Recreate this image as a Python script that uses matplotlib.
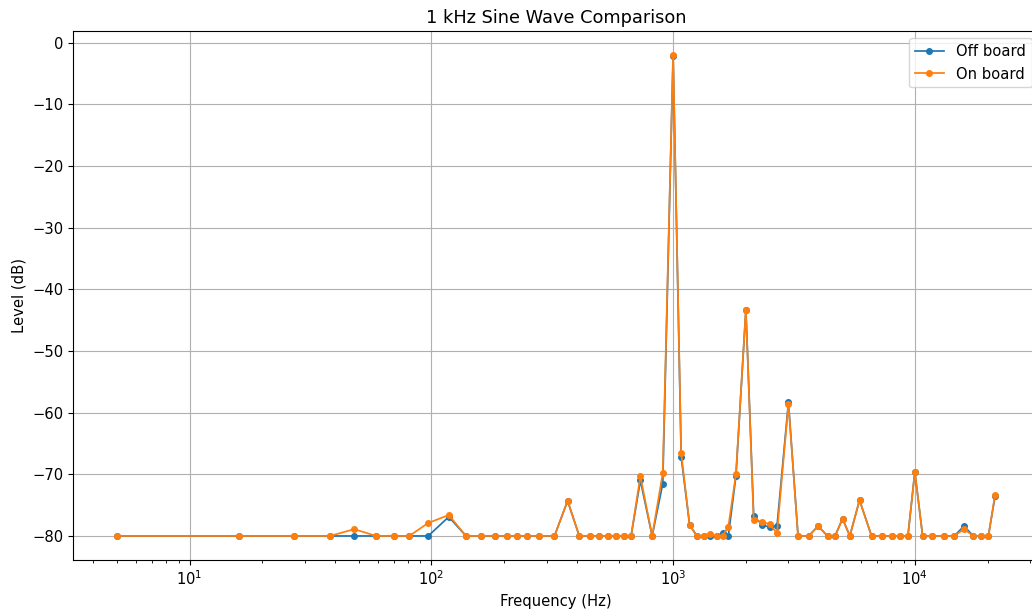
import matplotlib
matplotlib.use("Agg")
import matplotlib.pyplot as plt

# frequency bins (Hz)
freq = [5, 16, 27, 38, 48, 59, 70, 81, 97, 118, 139, 161, 184, 205, 226, 248,
        280, 323, 366, 409, 453, 495, 540, 583, 625, 670, 732, 819, 906, 1000,
        1080, 1170, 1254, 1341, 1425, 1518, 1602, 1692, 1819, 2000, 2154, 2340,
        2508, 2690, 3000, 3287, 3640, 3978, 4352, 4679, 5022, 5383, 5904, 6622,
        7285, 8013, 8676, 9363, 10000, 10772, 11806, 13203, 14565, 15973, 17458,
        18849, 20150, 21478]

off_board = [-80, -80, -80, -80, -80, -80, -80, -80, -80, -76.9, -80, -80, -80, -80, -80, -80,
             -80, -80, -74.3, -80, -80, -80, -80, -80, -80, -80, -71.0, -80, -71.5, -2.1,
             -67.2, -78.2, -80, -80, -80, -80, -79.5, -80, -70.3, -43.3, -76.7, -78.3,
             -78.5, -78.4, -58.3, -80, -80, -78.4, -80, -80, -77.2, -80, -74.2, -80,
             -80, -80, -80, -80, -69.6, -80, -80, -80, -80, -78.4, -80,
             -80, -80, -73.5]

on_board = [-80, -80, -80, -80, -78.9, -80, -80, -80, -77.9, -76.6, -80, -80, -80, -80, -80, -80,
            -80, -80, -74.3, -80, -80, -80, -80, -80, -80, -80, -70.3, -80, -69.8, -2.0,
            -66.6, -78.2, -80, -80, -79.7, -80, -80, -78.5, -70.0, -43.3, -77.4, -77.7,
            -78.1, -79.6, -58.6, -80, -80, -78.4, -80, -80, -77.2, -80, -74.2, -80,
            -80, -80, -80, -80, -69.6, -80, -80, -80, -80, -78.9, -80,
            -80, -80, -73.3]

plt.rcParams["font.size"] = 10.6

fig = plt.figure(figsize=(10.32, 6.11), dpi=100)
# axes run slightly past the right edge of the figure, like the reference
ax = fig.add_axes([73 / 1032, 51 / 611, 966 / 1032, 529 / 611])

ax.plot(freq, off_board, marker="o", markersize=4, linewidth=1.25, label="Off board")
ax.plot(freq, on_board, marker="o", markersize=4, linewidth=1.25, label="On board")

ax.set_xscale("log")
ax.set_xlabel("Frequency (Hz)")
ax.set_ylabel("Level (dB)")
ax.set_title("1 kHz Sine Wave Comparison", fontsize=12.8)
ax.grid(True)
ax.legend(loc="upper right")

fig.savefig("out.png", dpi=100)
